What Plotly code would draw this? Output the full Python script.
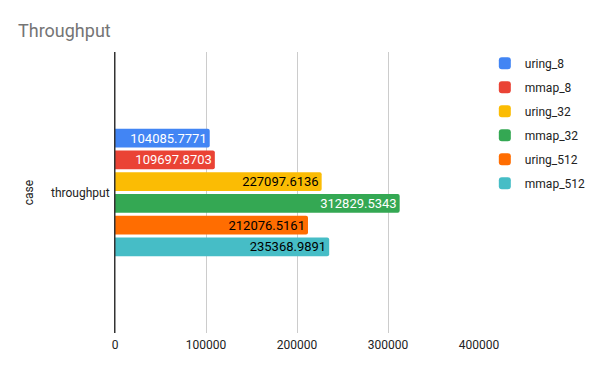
import plotly.graph_objects as go

categories = ["throughput"]
series_names = ["uring_8", "mmap_8", "uring_32", "mmap_32", "uring_512", "mmap_512"]
series_values = [104085.7771, 109697.8703, 227097.6136, 312829.5343, 212076.5161, 235368.9891]
colors = ["#4285F4", "#EA4335", "#FBBC04", "#34A853", "#FF6D01", "#46BDC6"]
text_colors = ["#ffffff", "#ffffff", "#000000", "#ffffff", "#000000", "#000000"]
tick_vals = [0, 100000, 200000, 300000, 400000]

fig = go.Figure()
for name, val, c, tc in zip(series_names, series_values, colors, text_colors):
    fig.add_trace(go.Bar(
        y=categories, x=[val], name=name, orientation="h",
        marker=dict(color=c, line=dict(width=0), cornerradius=2),
        texttemplate="%{x:.4f}", textposition="inside", insidetextanchor="end",
        constraintext="none",
        textfont=dict(color=tc, size=13, family="Roboto"),
        legendgroup=name,
        hoverinfo="x+name",
    ))

fig.update_layout(
    width=600, height=371,
    paper_bgcolor="white", plot_bgcolor="white",
    font=dict(family="Roboto", color="#222222", size=12),
    title=dict(text="Throughput", x=0, xref="container", xanchor="left",
               y=1, yref="container", yanchor="top",
               pad=dict(t=16, l=10),
               font=dict(size=18, color="#757575", family="Roboto")),
    margin=dict(l=107, r=129, t=44, b=46, autoexpand=False),
    barmode="group", bargap=0.535, bargroupgap=0.14,
    showlegend=True,
    legend=dict(x=1.016, xanchor="left", y=1.012, yanchor="top",
                traceorder="grouped", tracegroupgap=5,
                font=dict(size=12, color="#222222"), itemwidth=30),
    xaxis=dict(range=[0, 400000], tickvals=tick_vals, ticktext=[str(v) for v in tick_vals],
               showgrid=True, gridcolor="#cccccc", gridwidth=1,
               zeroline=False, showline=False, automargin=False,
               ticklabelstandoff=3,
               tickfont=dict(size=12, color="#222222"), ticks=""),
    yaxis=dict(autorange="reversed", showline=True, linecolor="#333333", linewidth=1,
               automargin=False, ticklabelstandoff=2,
               title=dict(text="case", font=dict(size=12, color="#222222"), standoff=14),
               tickfont=dict(size=12, color="#222222"), ticks="", showgrid=False),
)
fig.add_shape(type="line", xref="x", yref="paper", x0=0, x1=0, y0=0, y1=1,
              line=dict(color="#333333", width=1))

fig.write_html("out.html")
